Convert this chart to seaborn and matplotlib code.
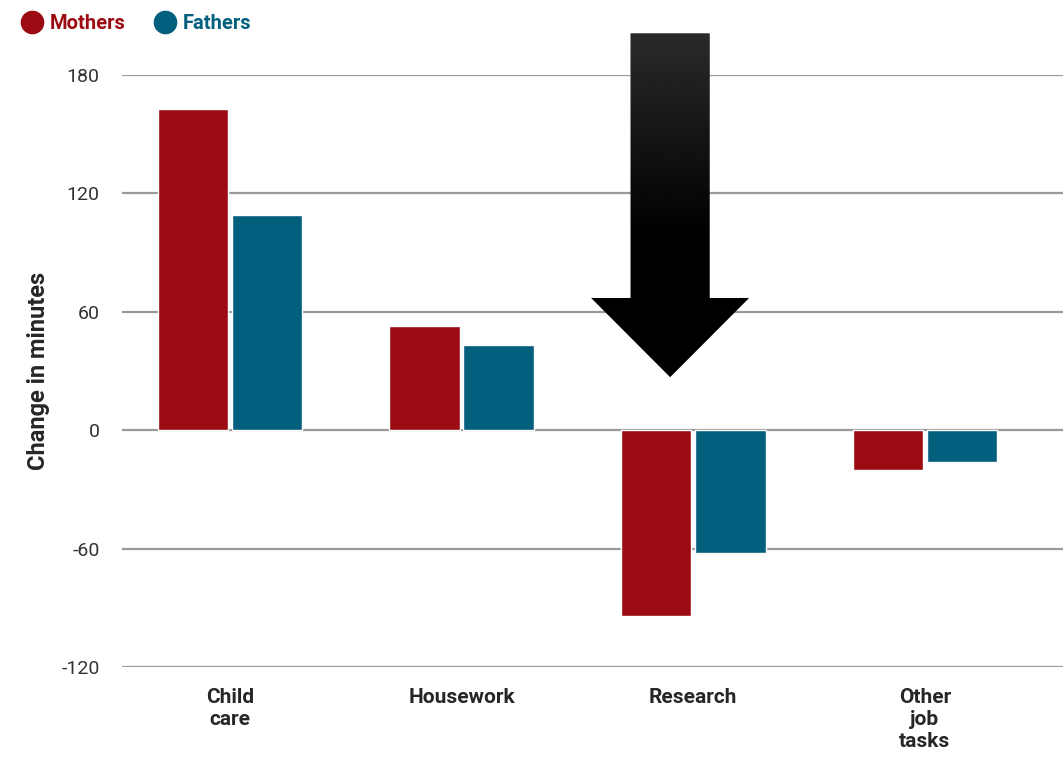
import numpy as np
import pandas as pd
import seaborn as sns
import matplotlib.pyplot as plt
from matplotlib.lines import Line2D
from matplotlib.patches import Polygon

# data (change in minutes per day)
tasks = ["Child\ncare", "Housework", "Research", "Other\njob\ntasks"]
mothers = [163, 53, -94, -20]
fathers = [109, 43, -62, -16]
ticks = [-120, -60, 0, 60, 120, 180]

red = "#9c0b11"
teal = "#025f7d"

df = pd.DataFrame({
    "task": tasks * 2,
    "minutes": mothers + fathers,
    "parent": ["Mothers"] * 4 + ["Fathers"] * 4,
})

sns.set_style("white")
plt.rcParams["font.family"] = ["Roboto", "DejaVu Sans"]
plt.rcParams["axes.unicode_minus"] = False

fig = plt.figure(figsize=(10.63, 7.61), dpi=100)
ax = fig.add_axes([122 / 1063, 1 - 667 / 761, 1 - 122 / 1063, (667 - 75) / 761])

sns.barplot(data=df, x="task", y="minutes", hue="parent",
            palette={"Mothers": red, "Fathers": teal}, saturation=1,
            width=0.64, gap=0.05, ax=ax, legend=False, zorder=3)

ax.set_ylim(-120, 180)
ax.set_xlim(-0.466, 3.596)
ax.set_yticks(ticks)
ax.grid(axis="y", color="#9a9a9a", lw=1.6, zorder=0)
ax.set_axisbelow(True)
sns.despine(ax=ax, left=True, bottom=True, top=True, right=True)
ax.tick_params(axis="y", length=0, pad=16, labelsize=14, labelcolor="#333333")
ax.tick_params(axis="x", length=0, pad=15)
for lab in ax.get_xticklabels():
    lab.set_fontsize(15)
    lab.set_fontweight("bold")
    lab.set_linespacing(1.2)
ax.set_xlabel("")
ax.set_ylabel("Change in minutes", fontsize=17, fontweight="bold", labelpad=8)

# big black arrow pointing at Research
xc, bw, hw = 1.9, 0.17, 0.34
ytop, yhead, ytip = 201, 67, 27
pts = [(xc - bw, ytop), (xc + bw, ytop), (xc + bw, yhead), (xc + hw, yhead),
       (xc, ytip), (xc - hw, yhead), (xc - bw, yhead)]
arrow = Polygon(pts, closed=True, facecolor="black", edgecolor="none",
                transform=ax.transData, clip_on=False, zorder=6)
ax.add_patch(arrow)
grad = np.clip(np.linspace(0.17, -0.12, 256), 0, None).reshape(-1, 1)
im = ax.imshow(grad, cmap="gray", vmin=0, vmax=1, aspect="auto",
               extent=[xc - hw - 0.05, xc + hw + 0.05, ytip - 5, ytop + 2],
               zorder=7, interpolation="bicubic")
im.set_clip_path(arrow)
im.set_clip_box(fig.bbox)
ax.set_ylim(-120, 180)
ax.set_xlim(-0.466, 3.596)

handles = [Line2D([], [], marker="o", ls="", markersize=16, color=red),
           Line2D([], [], marker="o", ls="", markersize=16, color=teal)]
leg = fig.legend(handles, ["Mothers", "Fathers"], loc="upper left",
                 bbox_to_anchor=(0.0, 1.006), ncol=2, frameon=False,
                 handletextpad=0.15, columnspacing=1.3, handlelength=1.4,
                 labelcolor="markerfacecolor",
                 prop={"weight": "bold", "size": 14.5})

fig.savefig("out.png", dpi=100)
